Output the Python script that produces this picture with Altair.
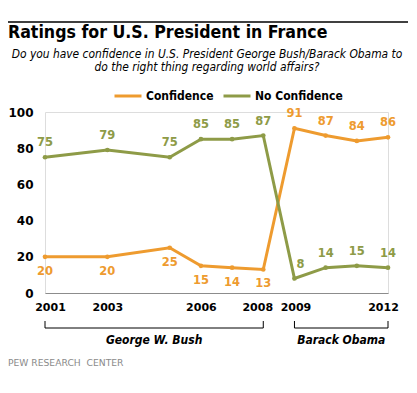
import altair as alt
import pandas as pd

years = [2001, 2003, 2005, 2006, 2007, 2008, 2009, 2010, 2011, 2012]
confidence = [20, 20, 25, 15, 14, 13, 91, 87, 84, 86]
no_confidence = [75, 79, 75, 85, 85, 87, 8, 14, 15, 14]
series_names = ["Confidence", "No Confidence"]
series_colors = ["#EE9B2F", "#8E9B47"]
tick_years = [2001, 2003, 2006, 2008, 2009, 2012]
y_ticks = [0, 20, 40, 60, 80, 100]
presidents = ["George W. Bush", "Barack Obama"]
pres_start = [2001, 2009]
pres_end = [2008, 2012]

title_text = "Ratings for U.S. President in France"
subtitle_lines = ["Do you have confidence in U.S. President George Bush/Barack Obama to",
                  "do the right thing regarding world affairs?"]
source_text = "PEW RESEARCH\u00a0 CENTER"

FONT = "DejaVu Sans"
FONT_C = "DejaVu Sans Condensed"

rows = []
for y, c, n in zip(years, confidence, no_confidence):
    rows.append({"year": y, "series": "Confidence", "value": c,
                 "side": "below" if c < n else "above", "order": 0})
    rows.append({"year": y, "series": "No Confidence", "value": n,
                 "side": "above", "order": 1})
df = pd.DataFrame(rows)

pres_df = pd.DataFrame({"name": presidents, "start": pres_start, "end": pres_end})
pres_df["mid"] = (pres_df["start"] + pres_df["end"]) / 2

xscale = alt.Scale(domain=[2001, 2012], nice=False, zero=False)
yscale = alt.Scale(domain=[0, 100], nice=False)
cscale = alt.Scale(domain=series_names, range=series_colors)

base = alt.Chart(df)

x_label_offset = {
    "condition": [
        {"test": "datum.value == 2001", "value": 5},
        {"test": "datum.value == 2008", "value": -6},
        {"test": "datum.value == 2009", "value": 1},
        {"test": "datum.value == 2012", "value": -5},
    ],
    "value": 0,
}

X_main = alt.X("year:Q", scale=xscale,
               axis=alt.Axis(values=tick_years, format="d", title=None, ticks=False,
                             grid=False, domainColor="#8c8c8c", domainWidth=1,
                             labelFont=FONT, labelFontWeight="bold", labelFontSize=11,
                             labelColor="#000", labelPadding=8, labelOverlap=False,
                             labelFlush=False, labelOffset=x_label_offset))
Y_main = alt.Y("value:Q", scale=yscale,
               axis=alt.Axis(values=y_ticks, title=None, ticks=False,
                             grid=False, domain=False, labelFont=FONT,
                             labelFontWeight="bold", labelFontSize=12,
                             labelColor="#000", labelPadding=12, labelOverlap=False,
                             labelFlush=False))
X_plain = alt.X("year:Q", scale=xscale, axis=None)
Y_plain = alt.Y("value:Q", scale=yscale, axis=None)

lines = base.mark_line(strokeWidth=3).encode(
    x=X_main,
    y=Y_main,
    color=alt.Color("series:N", scale=cscale,
                    legend=alt.Legend(title=None, orient="none", direction="horizontal",
                                      legendX=68, legendY=-31,
                                      symbolType="stroke", symbolStrokeWidth=3,
                                      symbolSize=729, labelFont=FONT_C,
                                      labelFontWeight="bold", labelFontSize=12,
                                      labelColor="#000", labelOffset=3,
                                      columnPadding=3)),
    order=alt.Order("order:Q"),
)

points = base.mark_circle(size=22, opacity=1).encode(
    x=X_plain, y=Y_plain,
    color=alt.Color("series:N", scale=cscale, legend=None),
)

def value_labels(cond, dx, dy):
    return base.transform_filter(cond).mark_text(
        font=FONT, fontWeight="bold", fontSize=11.5, dx=dx, dy=dy, baseline="middle"
    ).encode(
        x=X_plain, y=Y_plain,
        text="value:Q",
        color=alt.Color("series:N", scale=cscale, legend=None),
    )

labels_above = value_labels((alt.datum.side == "above") & (alt.datum.value >= 10), 0, -14)
labels_low = value_labels((alt.datum.side == "above") & (alt.datum.value < 10), 6, -14)
labels_below = value_labels(alt.datum.side == "below", 0, 15)

pres = alt.Chart(pres_df)
br_h = pres.mark_rule(color="#000", strokeWidth=1).encode(
    x=alt.X("start:Q", scale=xscale, axis=None), x2="end:Q", y=alt.value(216))
br_l = pres.mark_rule(color="#000", strokeWidth=1).encode(
    x=alt.X("start:Q", scale=xscale, axis=None), y=alt.value(209), y2=alt.value(216))
br_r = pres.mark_rule(color="#000", strokeWidth=1).encode(
    x=alt.X("end:Q", scale=xscale, axis=None), y=alt.value(209), y2=alt.value(216))
pres_lbl = pres.mark_text(font=FONT_C, fontWeight="bold", fontStyle="italic",
                          fontSize=12, baseline="middle").encode(
    x=alt.X("mid:Q", scale=xscale, axis=None), y=alt.value(228), text="name:N")

one = pd.DataFrame({"k": [0]})
top_rule = alt.Chart(one).mark_rule(color="#000", strokeWidth=1.6).encode(
    x=alt.value(-37), x2=alt.value(363), y=alt.value(-90))
bot_rule = alt.Chart(one).mark_rule(color="#000", strokeWidth=1.6).encode(
    x=alt.value(-37), x2=alt.value(363), y=alt.value(265))
title = alt.Chart(one).mark_text(font=FONT_C, fontWeight="bold", fontSize=17.6,
                                 align="left", baseline="middle", color="#000").encode(
    x=alt.value(-37), y=alt.value(-79), text=alt.value(title_text))
sub_df = pd.DataFrame({"line": subtitle_lines, "i": [0, 1]})
subtitle = alt.Chart(sub_df).transform_calculate(
    py="-58 + datum.i * 13").mark_text(
    font=FONT_C, fontStyle="italic", fontSize=11.9, align="center",
    baseline="middle", color="#000").encode(
    x=alt.value(162), y=alt.Y("py:Q", scale=None, axis=None), text="line:N")
source = alt.Chart(one).mark_text(font=FONT, fontSize=9.2, align="left",
                                  baseline="middle", color="#8a8a8a").encode(
    x=alt.value(-37), y=alt.value(251), text=alt.value(source_text))

chart = alt.layer(
    lines, points, labels_above, labels_low, labels_below,
    title, subtitle, source, bot_rule,
    br_h, br_l, br_r, pres_lbl, top_rule,
).resolve_scale(color="shared").resolve_axis(x="independent", y="independent").properties(
    width=343, height=181,
    autosize=alt.AutoSizeParams(type="none"),
    padding={"left": 37, "top": 104, "right": 21, "bottom": 82},
).configure_view(strokeWidth=0, stroke="transparent").configure(
    background="#ffffff").configure_axis(labelOverlap=False)

chart.save("out.html", embed_options={"renderer": "svg", "actions": False})
